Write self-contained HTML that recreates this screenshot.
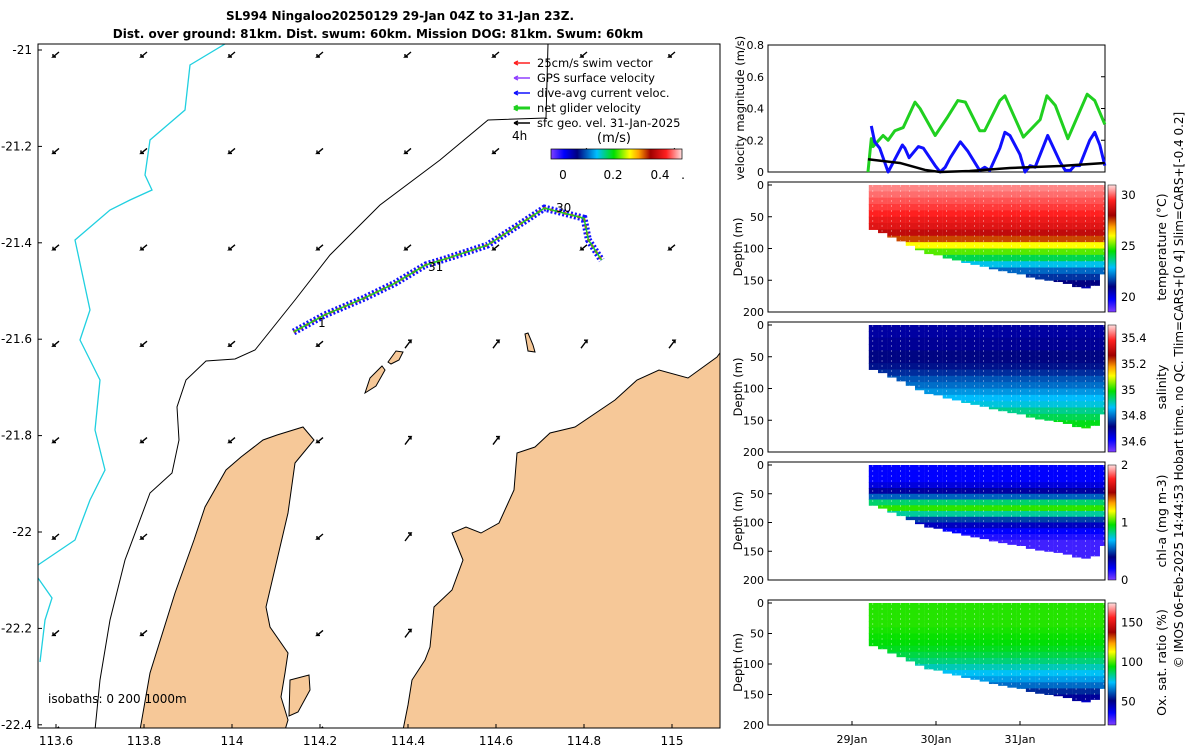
<!DOCTYPE html>
<html><head><meta charset="utf-8"><style>
body{margin:0;background:#fff;width:1200px;height:750px;overflow:hidden;font-family:"Liberation Sans","DejaVu Sans",sans-serif}
svg text{font-family:"DejaVu Sans","Liberation Sans",sans-serif}
</style></head><body>
<svg id="s" width="1200" height="750" xmlns="http://www.w3.org/2000/svg">
<defs>
<linearGradient id="jet" x1="0" y1="1" x2="0" y2="0">
<stop offset="0" stop-color="#8040ff"/><stop offset="0.1" stop-color="#0000ff"/><stop offset="0.2" stop-color="#000080"/><stop offset="0.35" stop-color="#00c0ff"/><stop offset="0.48" stop-color="#00e000"/><stop offset="0.6" stop-color="#ffff00"/><stop offset="0.67" stop-color="#ffa000"/><stop offset="0.76" stop-color="#a00000"/><stop offset="0.88" stop-color="#ff2020"/><stop offset="1" stop-color="#ffe0e0"/>
</linearGradient>
<linearGradient id="jeth" x1="0" y1="0" x2="1" y2="0">
<stop offset="0" stop-color="#8040ff"/><stop offset="0.1" stop-color="#0000ff"/><stop offset="0.2" stop-color="#000080"/><stop offset="0.35" stop-color="#00c0ff"/><stop offset="0.48" stop-color="#00e000"/><stop offset="0.6" stop-color="#ffff00"/><stop offset="0.67" stop-color="#ffa000"/><stop offset="0.76" stop-color="#a00000"/><stop offset="0.88" stop-color="#ff2020"/><stop offset="1" stop-color="#ffe0e0"/>
</linearGradient>
<clipPath id="mapclip"><rect x="38" y="44" width="682" height="684"/></clipPath>
</defs>
<text x="400" y="20" font-size="12" font-weight="bold" text-anchor="middle">SL994 Ningaloo20250129 29-Jan 04Z to 31-Jan 23Z.</text>
<text x="378" y="38" font-size="12" font-weight="bold" text-anchor="middle">Dist. over ground: 81km. Dist. swum: 60km. Mission DOG: 81km. Swum: 60km</text>
<g id="map"></g>
<g id="right"></g>
<text transform="translate(1183,390) rotate(-90)" font-size="12" text-anchor="middle">© IMOS 06-Feb-2025 14:44:53 Hobart time. no QC. Tlim=CARS+[0 4] Slim=CARS+[-0.4 0.2]</text>
</svg>
<script>
// ---- map data ----
const lonTicks=[113.6,113.8,114,114.2,114.4,114.6,114.8,115];
const latTicks=[-21,-21.2,-21.4,-21.6,-21.8,-22,-22.2,-22.4];
const trackLon=[114.14,114.21,114.30,114.37,114.44,114.49,114.58,114.65,114.71,114.80,114.81,114.84];
const trackLat=[-21.585,-21.55,-21.515,-21.484,-21.446,-21.432,-21.405,-21.364,-21.328,-21.349,-21.394,-21.436];
// ---- velocity data ----
const netDays=[29.19,29.23,29.25,29.37,29.43,29.51,29.61,29.75,29.81,29.99,30.13,30.26,30.35,30.52,30.58,30.76,30.82,31.04,31.24,31.32,31.42,31.57,31.80,31.89,32.01];
const netVel=[0,0.21,0.16,0.23,0.2,0.26,0.28,0.44,0.40,0.23,0.34,0.45,0.44,0.26,0.26,0.45,0.48,0.22,0.33,0.48,0.42,0.21,0.49,0.45,0.30];
const curDays=[29.23,29.27,29.33,29.43,29.51,29.6,29.63,29.68,29.79,29.85,29.99,30.05,30.11,30.17,30.29,30.38,30.52,30.58,30.64,30.76,30.82,30.88,31.0,31.06,31.12,31.18,31.24,31.33,31.48,31.54,31.6,31.65,31.71,31.83,31.89,31.95,32.01];
const curVel=[0.29,0.19,0.15,0,0.08,0.17,0.15,0.09,0.16,0.15,0.04,0,0.03,0.09,0.19,0.13,0.01,0.03,0.01,0.15,0.25,0.23,0.11,0,0.04,0.03,0.11,0.23,0.06,0.01,0.01,0.04,0.04,0.2,0.25,0.17,0.04];
const geoDays=[29.19,29.57,29.87,30.05,30.4,30.88,31.48,32.01];
const geoVel=[0.08,0.057,0.013,0,0.006,0.025,0.038,0.057];
// ---- section data ----
const profDays=[29.2,29.31,29.42,29.53,29.64,29.75,29.86,29.97,30.08,30.19,30.3,30.41,30.52,30.63,30.74,30.85,30.96,31.07,31.18,31.29,31.4,31.51,31.62,31.73,31.84,31.95];
const profMaxDepth=[70,75,82,88,95,102,108,110,115,118,122,125,128,132,135,138,140,145,148,150,152,155,160,162,158,140];
const depthBins=[0,10,20,30,40,50,60,70,80,90,100,110,120,130,140,150,160];
const tempProfile=[30.3,30.1,29.9,29.7,29.5,29.2,29,28.5,27.5,26,25,24,23,22,21.5,21,20.5];
const salProfile=[34.69,34.69,34.7,34.7,34.72,34.72,34.73,34.75,34.78,34.8,34.83,34.86,34.88,34.92,34.95,34.98,35.0];
const chlProfile=[0.2,0.2,0.2,0.25,0.35,0.55,0.85,1.0,0.8,0.5,0.3,0.2,0.15,0.1,0.1,0.1,0.1];
const oxyProfile=[97,97,97,97,96,95,94,92,89,85,80,75,70,64,56,48,42];

const NS='http://www.w3.org/2000/svg';
function mk(p,tag,at){const e=document.createElementNS(NS,tag);for(const k in at)e.setAttribute(k,at[k]);p.appendChild(e);return e;}
const mx=l=>56+(l-113.6)*440, my=l=>50+(-21-l)*482;
const map=document.getElementById('map');
const g=mk(map,'g',{'clip-path':'url(#mapclip)'});
const LAND='#f6c898';
let land1=mk(g,'path',{d:'M140,730 L150,673 L175,593 L194,540 L205,507 L226,470 L241,457 L263,440 L277,435 L303,427 L314,440 L295,463 L288,513 L277,560 L266,607 L270,627 L288,653 L285,673 L281,697 L288,720 L285,730 Z',fill:LAND,stroke:'#000','stroke-width':1});


let land2=mk(g,'path',{d:'M403,730 L408,705 L412,680 L425,660 L430,647 L434,607 L452,590 L463,560 L452,533 L466,527 L481,533 L499,523 L514,490 L517,453 L535,447 L550,433 L575,427 L615,400 L637,380 L659,370 L688,378 L717,357 L722,350 L722,730 Z',fill:LAND,stroke:'#000','stroke-width':1});


let land3=mk(g,'path',{d:'M290,680 L309,675 L310,690 L298,712 L289,716 Z',fill:LAND,stroke:'#000'});

[['M365,393 L370,378 L382,366 L385,370 L376,386 Z'],['M388,362 L396,351 L403,352 L399,360 L391,364 Z'],['M525,334 L528,333 L533,345 L535,352 L528,351 Z']].forEach(i=>{let e=mk(g,'path',{d:i[0],fill:LAND,stroke:'#000'});});
// isobath
let iso1=mk(g,'path',{d:'M548,44 L546,118 L488,120 L440,160 L380,205 L330,255 L295,300 L255,350 L235,359 L206,361 L186,380 L177,407 L179,440 L172,473 L150,493 L125,560 L110,620 L100,680 L95,730',fill:'none',stroke:'#000','stroke-width':1});


let cy=mk(g,'path',{d:'M225,44 L190,65 L185,110 L150,140 L145,175 L152,190 L130,200 L110,210 L75,240 L90,310 L80,340 L100,380 L95,430 L105,470 L90,500 L75,540 L38,565 M38,578 L52,598 L45,620 L40,662',fill:'none',stroke:'#20d0e0','stroke-width':1.3});


// current arrows
lonTicks.forEach(lo=>latTicks.forEach(la=>{const cx=mx(lo),cyy=my(la)+5;
 if(land1.isPointInFill&&(land1.isPointInFill(new DOMPoint(cx,cyy))||land2.isPointInFill(new DOMPoint(cx,cyy))))return;
 const ne=(la<=-21.59&&lo>=114.4);
 let d=ne?`M${cx-3},${cyy+4} L${cx+3},${cyy-4} l-3,0 M${cx+3},${cyy-4} l0,3`:`M${cx+3},${cyy-3} L${cx-3},${cyy+2} l3,0 M${cx-3},${cyy+2} l0,-3`;
 let a=mk(g,'path',{d:d,stroke:'#000','stroke-width':1.4,fill:'none'});
 }));
// track
let pts=trackLon.map((l,i)=>mx(l)+','+my(trackLat[i])).join(' ');
let tb=mk(g,'polyline',{points:pts,fill:'none',stroke:'#1010ff','stroke-width':7,'stroke-dasharray':'2 2'});

let tr=mk(g,'polyline',{points:pts,fill:'none',stroke:'#ff2020','stroke-width':2.5,'stroke-dasharray':'3 4'});

let tg=mk(g,'polyline',{points:pts,fill:'none',stroke:'#20d020','stroke-width':1.5});

[['1',318,327],['31',428,271],['30',556,212]].forEach(t=>{let e=mk(g,'text',{x:t[1],y:t[2],'font-size':12});e.textContent=t[0];});
// frame
let fr=mk(map,'rect',{x:38,y:44,width:682,height:684,fill:'none',stroke:'#000'});

lonTicks.forEach(l=>{mk(map,'line',{x1:mx(l),x2:mx(l),y1:728,y2:724,stroke:'#000'});let t=mk(map,'text',{x:mx(l),y:745,'font-size':12,'text-anchor':'middle'});t.textContent=String(l);});
latTicks.forEach(l=>{mk(map,'line',{x1:38,x2:42,y1:my(l),y2:my(l),stroke:'#000'});let t=mk(map,'text',{x:32,y:my(l)+4,'font-size':12,'text-anchor':'end'});t.textContent=String(l);});
let isot=mk(map,'text',{x:48,y:703,'font-size':12,'xml:space':'preserve'});isot.textContent='isobaths: 0   200  1000m';
// legend
const leg=[['25cm/s swim vector','#ff2020',1.5],['GPS surface velocity','#9040ff',1.5],['dive-avg current veloc.','#1010ff',1.5],['net glider velocity','#20d020',3],['sfc geo. vel. 31-Jan-2025','#000',1.5]];
leg.forEach((l,i)=>{const y=63+i*15;mk(map,'path',{d:`M530,${y} L514,${y} M514,${y} l4,-2 M514,${y} l4,2`,stroke:l[1],'stroke-width':l[2],fill:'none'});let t=mk(map,'text',{x:537,y:y+4,'font-size':11.5});t.textContent=l[0];});
let t4=mk(map,'text',{x:512,y:140,'font-size':12});t4.textContent='4h';
let tms=mk(map,'text',{x:597,y:142,'font-size':13});tms.textContent='(m/s)';
let cbh=mk(map,'rect',{x:551,y:149,width:131,height:10,fill:'url(#jeth)',stroke:'#000','stroke-width':0.7});
[['0',563],['0.2',613],['0.4',660],['.',683]].forEach(t=>{let e=mk(map,'text',{x:t[1],y:179,'font-size':12,'text-anchor':'middle'});e.textContent=t[0];});

// ---- right panels ----
const R=document.getElementById('right');
const X0=768,X1=1105,dx=d=>852+(d-29)*84;
const vp={y0:45,y1:172};const vy=v=>vp.y1-v/0.8*(vp.y1-vp.y0);
let vr=mk(R,'rect',{x:X0,y:vp.y0,width:X1-X0,height:vp.y1-vp.y0,fill:'none',stroke:'#000'});
[0,0.2,0.4,0.6,0.8].forEach(v=>{mk(R,'line',{x1:X1,x2:X1-4,y1:vy(v),y2:vy(v),stroke:'#000'});let t=mk(R,'text',{x:764,y:vy(v)+4,'font-size':11,'text-anchor':'end'});t.textContent=String(v);});
let vt=mk(R,'text',{transform:'translate(744,108) rotate(-90)','font-size':11.5,'text-anchor':'middle'});vt.textContent='velocity magnitude (m/s)';
const line=(days,arr,col,w,name)=>{let e=mk(R,'polyline',{points:days.map((d,i)=>Math.min(dx(d),X1)+','+vy(arr[i])).join(' '),fill:'none',stroke:col,'stroke-width':w,'stroke-linejoin':'round'});};
line(netDays,netVel,'#20d020',3,'net-velocity-line');line(curDays,curVel,'#1010ff',3,'current-velocity-line');line(geoDays,geoVel,'#000',2.5,'geo-velocity-line');
// color map
const jet=[[0,[128,64,255]],[0.1,[0,0,255]],[0.2,[0,0,128]],[0.35,[0,192,255]],[0.48,[0,224,0]],[0.6,[255,255,0]],[0.67,[255,160,0]],[0.76,[160,0,0]],[0.88,[255,32,32]],[1,[255,224,224]]];
function cmap(f){f=Math.max(0,Math.min(1,f));for(let i=1;i<jet.length;i++){if(f<=jet[i][0]){const a=jet[i-1],b=jet[i],t=(f-a[0])/(b[0]-a[0]);return 'rgb('+a[1].map((c,k)=>Math.round(c+(b[1][k]-c)*t)).join(',')+')';}}return 'rgb(255,224,224)';}
const panels=[
 {y0:182,y1:312,prof:tempProfile,lo:18.5,hi:31,ticks:[20,25,30],label:'temperature (°C)',name:'temperature'},
 {y0:322,y1:452,prof:salProfile,lo:34.52,hi:35.5,ticks:[34.6,34.8,35,35.2,35.4],label:'salinity',name:'salinity'},
 {y0:462,y1:580,prof:chlProfile,lo:0,hi:2,ticks:[0,1,2],label:'chl-a (mg m-3)',name:'chlorophyll'},
 {y0:600,y1:725,prof:oxyProfile,lo:20,hi:175,ticks:[50,100,150],label:'Ox. sat. ratio (%)',name:'oxygen'}];
panels.forEach(p=>{const top=p.y0+3,bot=p.y1;const dy=d=>top+d/200*(bot-top);
 profDays.forEach((d,j)=>{depthBins.forEach((z,k)=>{if(z>=profMaxDepth[j])return;
  let c=mk(R,'rect',{x:dx(d),y:dy(z),width:Math.min(9.4,X1-dx(d)),height:Math.min(10,profMaxDepth[j]-z)/200*(bot-top)+0.5,fill:cmap((p.prof[k]-p.lo)/(p.hi-p.lo))});
  });
  mk(R,'line',{x1:dx(d)+4,x2:dx(d)+4,y1:dy(0),y2:dy(profMaxDepth[j]),stroke:'#fff','stroke-width':0.6,'stroke-dasharray':'2 3',opacity:0.6});});
 let fr=mk(R,'rect',{x:X0,y:p.y0,width:X1-X0,height:p.y1-p.y0,fill:'none',stroke:'#000'});
 [0,50,100,150,200].forEach(z=>{mk(R,'line',{x1:X0,x2:X0+4,y1:dy(z),y2:dy(z),stroke:'#000'});let t=mk(R,'text',{x:764,y:dy(z)+4,'font-size':11,'text-anchor':'end'});t.textContent=String(z);});
 let at=mk(R,'text',{transform:`translate(742,${(p.y0+p.y1)/2}) rotate(-90)`,'font-size':11.5,'text-anchor':'middle'});at.textContent='Depth (m)';
 let cb=mk(R,'rect',{x:1108,y:p.y0+3,width:8,height:p.y1-p.y0-3,fill:'url(#jet)',stroke:'#000','stroke-width':0.5});
 const cy=v=>p.y1-(v-p.lo)/(p.hi-p.lo)*(p.y1-p.y0-3);
 p.ticks.forEach(v=>{let t=mk(R,'text',{x:1121,y:cy(v)+4,'font-size':11.5});t.textContent=String(v);});
 let lt=mk(R,'text',{transform:`translate(1166,${(p.y0+p.y1)/2}) rotate(-90)`,'font-size':12.5,'text-anchor':'middle'});lt.textContent=p.label;
});
[['29Jan',29],['30Jan',30],['31Jan',31]].forEach(t=>{mk(R,'line',{x1:dx(t[1]),x2:dx(t[1]),y1:725,y2:721,stroke:'#000'});let e=mk(R,'text',{x:dx(t[1]),y:743,'font-size':11,'text-anchor':'middle'});e.textContent=t[0];});
</script>
</body></html>
